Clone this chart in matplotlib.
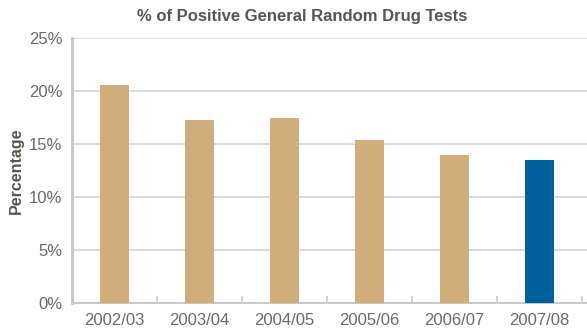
import matplotlib.pyplot as plt
import numpy as np

years = ["2002/03", "2003/04", "2004/05", "2005/06", "2006/07", "2007/08"]
positive_pct = [20.6, 17.3, 17.5, 15.4, 14.0, 13.5]
bar_colors = ["#d0ae7c", "#d0ae7c", "#d0ae7c", "#d0ae7c", "#d0ae7c", "#00609c"]

plt.rcParams["font.family"] = ["Liberation Sans", "DejaVu Sans"]

fig = plt.figure(figsize=(5.87, 3.34), dpi=100)
ax = fig.add_axes([72 / 587, 31 / 334, 515 / 587, 265 / 334])

x = np.arange(len(years))
ax.bar(x, positive_pct, width=0.35, color=bar_colors, zorder=3)

ax.set_xlim(-0.5, len(years) - 0.5 + 5 / 85)
ax.set_ylim(0, 25)
ax.set_yticks([0, 5, 10, 15, 20, 25])
ax.set_yticklabels([f"{v}%" for v in [0, 5, 10, 15, 20, 25]])
ax.yaxis.grid(True, color="#d4d4d4", linewidth=1.2, zorder=0)

# category labels centred, tick marks on the boundaries
ax.set_xticks(x)
ax.set_xticklabels(years)
ax.set_xticks(np.arange(0.5, len(years)), minor=True)
ax.tick_params(axis="x", which="major", length=0, pad=7, labelsize=12, labelcolor="#6a6a64")
ax.tick_params(axis="x", which="minor", direction="in", length=5, color="#c8c8c8", width=1.2)
ax.tick_params(axis="y", length=0, pad=7, labelsize=12, labelcolor="#6a6a64")
for lbl in ax.get_yticklabels():
    lbl.set_verticalalignment("center_baseline")

for side in ["top", "right"]:
    ax.spines[side].set_visible(False)
ax.spines["left"].set_color("#c4c4c0")
ax.spines["left"].set_linewidth(2)
ax.spines["bottom"].set_color("#c8c8c8")
ax.spines["bottom"].set_linewidth(1.5)

fig.text(302 / 587, 1 - 17 / 334, "% of Positive General Random Drug Tests", fontsize=12,
         fontweight="bold", color="#56564c", ha="center", va="center")
ax.set_ylabel("Percentage", fontsize=11.5, fontweight="bold", color="#56564c")
ax.yaxis.set_label_coords(-48 / 515, 0.5)

fig.savefig("out.png", dpi=100)
plt.close(fig)
